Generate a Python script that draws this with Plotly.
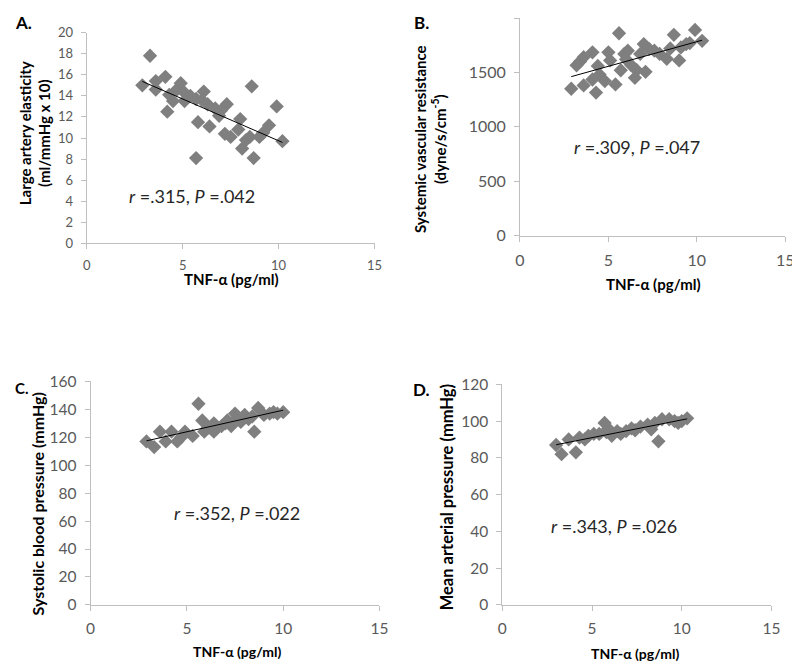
import numpy as np
import plotly.graph_objects as go

# TNF-alpha (pg/ml) vs four haemodynamic measures
a_tnf = [2.9, 3.3, 3.6, 3.6, 4.1, 4.2, 4.3, 4.5, 4.7, 4.9, 5.1, 5.1, 5.4, 5.7, 5.7, 5.8, 6.0, 6.1,
         6.3, 6.4, 6.7, 6.9, 7.0, 7.2, 7.3, 7.5, 7.9, 8.0, 8.1, 8.3, 8.5, 8.6, 8.7, 9.0, 9.2, 9.5,
         9.9, 10.2]
a_elasticity = [15.0, 17.8, 15.4, 14.6, 15.8, 12.5, 14.1, 13.5, 14.6, 15.2, 14.3, 13.5, 14.0, 8.1,
                13.7, 11.5, 13.6, 14.4, 13.2, 11.1, 12.8, 12.1, 12.6, 10.4, 13.2, 10.1, 10.8, 11.8,
                9.0, 9.8, 10.1, 14.9, 8.1, 10.1, 10.5, 11.2, 13.0, 9.7]

b_tnf = [2.9, 3.2, 3.4, 3.6, 3.6, 4.1, 4.1, 4.3, 4.4, 4.5, 4.8, 5.0, 5.1, 5.4, 5.6, 5.7, 5.9, 6.0,
         6.1, 6.3, 6.5, 6.6, 6.8, 7.0, 7.1, 7.3, 7.6, 7.9, 8.3, 8.5, 8.7, 9.0, 9.1, 9.4, 9.6, 9.9,
         10.3]
b_svr = [1350, 1565, 1600, 1640, 1380, 1685, 1435, 1315, 1560, 1480, 1420, 1685, 1610, 1390, 1860,
         1520, 1670, 1620, 1700, 1565, 1450, 1520, 1670, 1760, 1505, 1715, 1700, 1670, 1625, 1720,
         1845, 1610, 1730, 1760, 1770, 1890, 1790]

c_tnf = [2.9, 3.3, 3.6, 3.9, 4.2, 4.5, 4.7, 4.9, 5.3, 5.6, 5.8, 5.9, 6.1, 6.4, 6.4, 6.8, 7.0, 7.1,
         7.3, 7.5, 7.6, 7.8, 8.0, 8.2, 8.4, 8.5, 8.7, 9.0, 9.3, 9.5, 9.7, 10.0]
c_sbp = [117, 113, 124, 117, 124, 117, 120, 124, 121, 144, 132, 124, 127, 130, 124, 128, 130, 132,
         128, 137, 134, 131, 136, 133, 135, 124, 141, 136, 137, 138, 137, 138]

d_tnf = [3.0, 3.3, 3.7, 4.1, 4.3, 4.6, 4.8, 5.1, 5.4, 5.7, 5.8, 5.9, 6.1, 6.4, 6.6, 6.9, 7.2, 7.4,
         7.7, 8.1, 8.3, 8.5, 8.7, 8.9, 9.3, 9.6, 9.8, 10.0, 10.3]
d_map = [87, 82, 90, 83, 91, 90, 92, 93, 93, 99, 94, 96, 92, 94.5, 93, 94.5, 96, 95, 97, 98, 95.5,
         99, 89, 101, 101, 100, 99, 100, 101.5]

stats = ["<i>r</i> =.315, <i>P</i> =.042", "<i>r</i> =.309, <i>P</i> =.047",
         "<i>r</i> =.352, <i>P</i> =.022", "<i>r</i> =.343, <i>P</i> =.026"]
panel_labels = ["A.", "B.", "C.", "D."]
x_title = "TNF-α (pg/ml)"
y_titles = ["Large artery elasticity<br>(ml/mmHg x 10)",
            "Systemic vascular resistance<br>(dyne/s/cm<sup>-5</sup>)",
            "Systolic blood pressure (mmHg)",
            "Mean arterial pressure (mmHg)"]

GREY = "#7f7f7f"
AXIS = "#bfbfbf"
TICK = "#595959"
FONT = "Lato"
W, H = 800, 671
OFF = 8  # the html body margin shifts the figure by 8px


# page pixel -> paper fraction (kept inside [0, 1])
def fx(px):
    return min(max((px - OFF) / W, 0), 1)


def fy(py):
    return min(max(1 - (py - OFF) / H, 0), 1)


# one entry per panel: data, plot box in page pixels (left, right, top, bottom), y range / step,
# font sizes (ticks, x title, y title, letter) and text positions
panels = [
    dict(x=a_tnf, y=a_elasticity, box=(83, 376, 23, 240), yr=[0, 20], dy=2, fs=(13, 15, 15, 17),
         stat=(5.5, 4.5), xt=(230, 277), yt=(30, 127), lab=(8, 13)),
    dict(x=b_tnf, y=b_svr, box=(524, 794, 8, 232), yr=[0, 2000], dy=500, fs=(16, 15, 15, 17),
         stat=(6.6, 815), xt=(660, 282), yt=(433, 133), lab=(424, 13)),
    dict(x=c_tnf, y=c_sbp, box=(87, 381, 382, 612), yr=[0, 160], dy=20, fs=(15.5, 14, 16, 15),
         stat=(7.6, 66), xt=(236, 660), yt=(33, 508), lab=(8, 389)),
    dict(x=d_tnf, y=d_map, box=(506, 780, 385, 612), yr=[0, 120], dy=20, fs=(15.5, 14, 16.5, 17),
         stat=(6.2, 43), xt=(641, 662), yt=(450, 501), lab=(424, 390)),
]

fig = go.Figure()
layout = dict(width=W, height=H, margin=dict(l=0, r=0, t=0, b=0),
              paper_bgcolor="white", plot_bgcolor="white", showlegend=False,
              font=dict(family=FONT, color=TICK))
annotations = []

for i, p in enumerate(panels):
    n = "" if i == 0 else str(i + 1)
    xa, ya = "x" + n, "y" + n
    l, r, t, b = p["box"]
    fs_tick, fs_xt, fs_yt, fs_lab = p["fs"]

    # scatter of diamonds
    fig.add_trace(go.Scatter(x=p["x"], y=p["y"], mode="markers", xaxis=xa, yaxis=ya,
                             marker=dict(symbol="diamond", size=11, color=GREY)))

    # linear trend line
    k, c = np.polyfit(p["x"], p["y"], 1)
    xs = np.array([min(p["x"]), max(p["x"])])
    fig.add_trace(go.Scatter(x=xs, y=k * xs + c, mode="lines", xaxis=xa, yaxis=ya,
                             line=dict(color="black", width=1)))

    axis_style = dict(showgrid=False, zeroline=False, showline=True, linecolor=AXIS,
                      ticks="outside", ticklen=5, tickcolor=AXIS, ticklabelstandoff=5,
                      tickfont=dict(size=fs_tick, color=TICK))
    layout["xaxis" + n] = dict(domain=[fx(l), fx(r)], anchor=ya, range=[0, 15], dtick=5,
                               **axis_style)
    layout["yaxis" + n] = dict(domain=[fy(b), fy(t)], anchor=xa, range=p["yr"], dtick=p["dy"],
                               **axis_style)

    # r / P statistics
    annotations.append(dict(x=p["stat"][0], y=p["stat"][1], xref=xa, yref=ya, text=stats[i],
                            showarrow=False, xanchor="center", yanchor="middle",
                            font=dict(size=18, color="#262626")))
    # axis titles
    annotations.append(dict(x=fx(p["xt"][0]), y=fy(p["xt"][1]), xref="paper", yref="paper",
                            text="<b>" + x_title + "</b>", showarrow=False,
                            xanchor="center", yanchor="middle",
                            font=dict(size=fs_xt, color="black")))
    annotations.append(dict(x=fx(p["yt"][0]), y=fy(p["yt"][1]), xref="paper", yref="paper",
                            text="<b>" + y_titles[i] + "</b>", textangle=-90, showarrow=False,
                            xanchor="center", yanchor="middle",
                            font=dict(size=fs_yt, color="black")))
    # panel letter (left edge given for the ones at the page edge)
    annotations.append(dict(x=fx(p["lab"][0]), y=fy(p["lab"][1]), xref="paper", yref="paper",
                            text="<b>" + panel_labels[i] + "</b>", showarrow=False,
                            xanchor="left" if p["lab"][0] < 20 else "center", yanchor="middle",
                            font=dict(size=fs_lab, color="black")))

layout["annotations"] = annotations
fig.update_layout(**layout)

fig.write_html("out.html")
